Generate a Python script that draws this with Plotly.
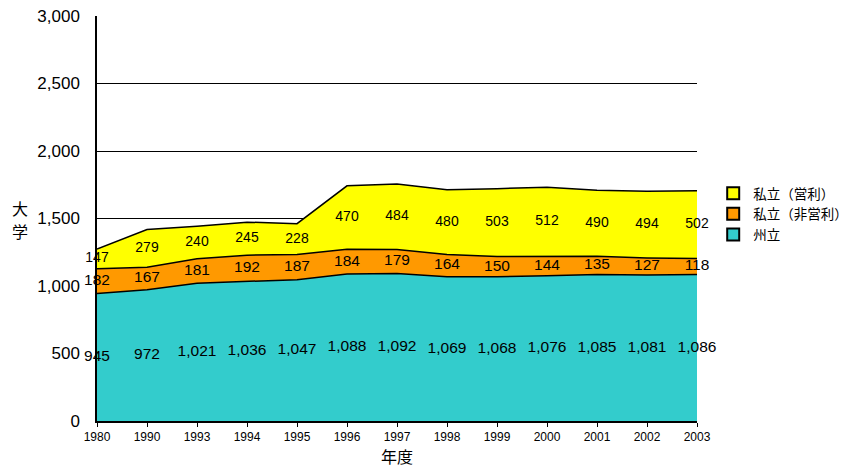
import plotly.graph_objects as go

years = ["1980", "1990", "1993", "1994", "1995", "1996", "1997", "1998", "1999", "2000", "2001", "2002", "2003"]
state = [945, 972, 1021, 1036, 1047, 1088, 1092, 1069, 1068, 1076, 1085, 1081, 1086]
private_np = [182, 167, 181, 192, 187, 184, 179, 164, 150, 144, 135, 127, 118]
private_fp = [147, 279, 240, 245, 228, 470, 484, 480, 503, 512, 490, 494, 502]

names = ["州立", "私立（非営利）", "私立（営利）"]
colors = ["#33CCCC", "#FF9900", "#FFFF00"]
series = [state, private_np, private_fp]

FONT = "Liberation Sans, Arial, Noto Sans CJK JP"
xi = list(range(len(years)))

fig = go.Figure()
base = [0] * len(years)
mids = []
for s in series:
    top = [b + v for b, v in zip(base, s)]
    mids.append([(b + t) / 2 for b, t in zip(base, top)])
    base = top

cum = [0] * len(years)
for i, s in enumerate(series):
    cum = [c + v for c, v in zip(cum, s)]
    fig.add_trace(go.Scatter(
        x=xi, y=cum, mode="lines",
        line=dict(color="black", width=1.5),
        fill="tozeroy" if i == 0 else "tonexty",
        fillcolor=colors[i], showlegend=False, hoverinfo="skip"))

for i, s in enumerate(series):
    fig.add_trace(go.Scatter(
        x=xi, y=mids[i], mode="text",
        text=[f"{v:,}" for v in s],
        textfont=dict(size=14 if i == 2 else 15.5, color="black", family=FONT),
        cliponaxis=False,
        showlegend=False, hoverinfo="skip"))

# legend entries
for i in [2, 1, 0]:
    fig.add_trace(go.Scatter(
        x=[None], y=[None], mode="markers", name=names[i],
        marker=dict(symbol="square", size=11, color=colors[i],
                    line=dict(color="black", width=1.5))))

fig.update_layout(
    width=852, height=471,
    margin=dict(l=97, r=155, t=16, b=50, autoexpand=False),
    paper_bgcolor="white", plot_bgcolor="white",
    font=dict(family=FONT, color="black"),
    legend=dict(x=1.027, y=0.6, xanchor="left", yanchor="top",
                font=dict(size=13.5, family="Noto Sans CJK JP"),
                traceorder="normal", itemsizing="constant",
                bgcolor="rgba(0,0,0,0)", tracegroupgap=0, itemwidth=30),
    xaxis=dict(
        tickmode="array", tickvals=xi, ticktext=years,
        range=[0, len(years) - 1], automargin=False,
        showgrid=False, zeroline=False,
        showline=True, linecolor="black", linewidth=1.5,
        ticks="outside", ticklen=4, tickcolor="black",
        tickfont=dict(size=12, family="Liberation Sans Narrow, Liberation Sans"),
        title=dict(text="年度", font=dict(size=16, family="Noto Sans CJK JP"), standoff=4),
    ),
    yaxis=dict(
        range=[0, 3000], tickvals=[0, 500, 1000, 1500, 2000, 2500, 3000],
        ticktext=["0", "500", "1,000", "1,500", "2,000", "2,500", "3,000"],
        showgrid=True, gridcolor="black", gridwidth=1, automargin=False,
        zeroline=False, showline=True, linecolor="black", linewidth=1.5,
        ticks="outside", ticklen=12, tickcolor="rgba(0,0,0,0)",
        tickfont=dict(size=17),
        title=None,
    ),
)

fig.add_annotation(
    text="大", xref="paper", yref="paper", x=-0.128, y=0.525,
    xanchor="center", yanchor="middle", showarrow=False, borderpad=0,
    font=dict(size=16, family="Noto Sans CJK JP", color="black"))
fig.add_annotation(
    text="学", xref="paper", yref="paper", x=-0.128, y=0.47,
    xanchor="center", yanchor="middle", showarrow=False, borderpad=0,
    font=dict(size=16, family="Noto Sans CJK JP", color="black"))

fig.write_html("out.html", post_script="document.body.style.margin='0';",
               config={"displayModeBar": False})
